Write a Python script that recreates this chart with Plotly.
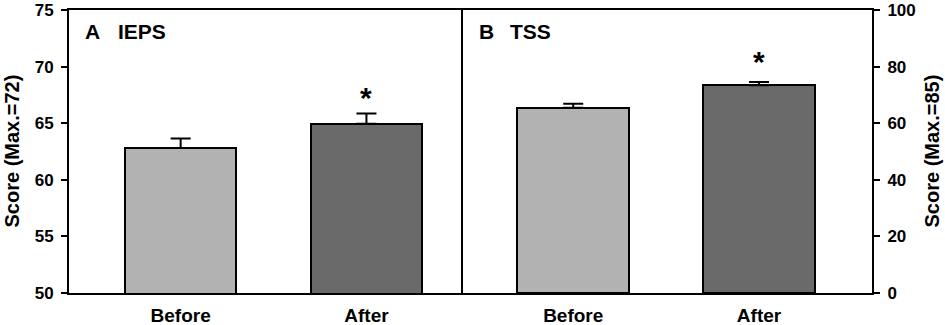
import plotly.graph_objects as go
from plotly.subplots import make_subplots

categories = ["Before", "After"]
ieps_mean = [62.8, 64.95]
ieps_err = [0.85, 0.9]
tss_mean = [65.5, 73.4]
tss_err = [1.4, 1.2]
bar_colors = ["#b2b2b2", "#6a6a6a"]
ieps_ticks = [50, 55, 60, 65, 70, 75]
tss_ticks = [0, 20, 40, 60, 80, 100]

FONT = "Liberation Sans, Arial, sans-serif"
xpos = list(range(len(categories)))

fig = make_subplots(rows=1, cols=2, horizontal_spacing=0)

fig.add_trace(go.Bar(
    x=xpos, y=ieps_mean, width=0.6,
    marker=dict(color=bar_colors, line=dict(color="black", width=2)),
    error_y=dict(type="data", symmetric=False, array=ieps_err,
                 arrayminus=[0] * len(ieps_err), color="black",
                 thickness=2, width=10),
    showlegend=False), row=1, col=1)

fig.add_trace(go.Bar(
    x=xpos, y=tss_mean, width=0.6,
    marker=dict(color=bar_colors, line=dict(color="black", width=2)),
    error_y=dict(type="data", symmetric=False, array=tss_err,
                 arrayminus=[0] * len(tss_err), color="black",
                 thickness=2, width=10),
    showlegend=False), row=1, col=2)

split = 392 / 803
axis_common = dict(showline=True, linecolor="black", linewidth=2,
                   showgrid=False, zeroline=False, automargin=False,
                   ticklabeloverflow="allow")

fig.update_layout(
    width=945, height=325,
    margin=dict(l=69, r=73, t=10, b=32),
    plot_bgcolor="white", paper_bgcolor="white",
    font=dict(family=FONT, color="black"),
    bargap=0,
    xaxis=dict(domain=[0, split], range=[-0.601, 1.509], tickvals=xpos,
               ticktext=categories, ticks="", mirror=True,
               tickfont=dict(size=19, weight="bold"), ticklabelstandoff=4,
               **axis_common),
    xaxis2=dict(domain=[split, 1], range=[-0.604, 1.608], tickvals=xpos,
                ticktext=categories, ticks="", mirror=True,
                tickfont=dict(size=19, weight="bold"), ticklabelstandoff=4,
                **axis_common),
    yaxis=dict(range=[50, 75], tickvals=ieps_ticks, ticks="outside", ticklen=6,
               tickwidth=2, tickcolor="black", mirror=True,
               tickfont=dict(size=17, weight="bold"), ticklabelstandoff=4,
               **axis_common),
    yaxis2=dict(range=[0, 100], tickvals=tss_ticks, side="right",
                ticks="outside", ticklen=6, tickwidth=2, tickcolor="black",
                mirror=False,
                tickfont=dict(size=17, weight="bold"), ticklabelstandoff=4,
                **axis_common),
)

ann = []
# axis titles
ann.append(dict(text="Score (Max.=72)", textangle=-90, xref="paper", yref="paper",
                x=0, y=0.5, xanchor="center", yanchor="middle", xshift=-58,
                showarrow=False, font=dict(size=20, weight="bold")))
ann.append(dict(text="Score (Max.=85)", textangle=-90, xref="paper", yref="paper",
                x=1, y=0.5, xanchor="center", yanchor="middle", xshift=59,
                showarrow=False, font=dict(size=20, weight="bold")))
# panel labels
for xr, yr, letter, name, s1, s2 in [("x domain", "y domain", "A", "IEPS", 14, 47),
                                     ("x2 domain", "y2 domain", "B", "TSS", 16, 47)]:
    ann.append(dict(text=letter, xref=xr, yref=yr, x=0, y=1, xanchor="left",
                    yanchor="top", xshift=s1, yshift=-8, showarrow=False,
                    font=dict(size=21, weight="bold")))
    ann.append(dict(text=name, xref=xr, yref=yr, x=0, y=1, xanchor="left",
                    yanchor="top", xshift=s2, yshift=-8, showarrow=False,
                    font=dict(size=21, weight="bold")))
# significance asterisks
ann.append(dict(text="*", xref="x", yref="y", x=xpos[1], y=ieps_mean[1] + ieps_err[1],
                yanchor="bottom", yshift=-2, showarrow=False,
                font=dict(size=30, weight="bold")))
ann.append(dict(text="*", xref="x2", yref="y2", x=xpos[1], y=tss_mean[1] + tss_err[1],
                yanchor="bottom", yshift=2, showarrow=False,
                font=dict(size=30, weight="bold")))
fig.update_layout(annotations=ann)

fig.write_html("out.html", config={"displayModeBar": False},
               post_script="document.body.style.margin='0';document.body.style.overflow='hidden';")
